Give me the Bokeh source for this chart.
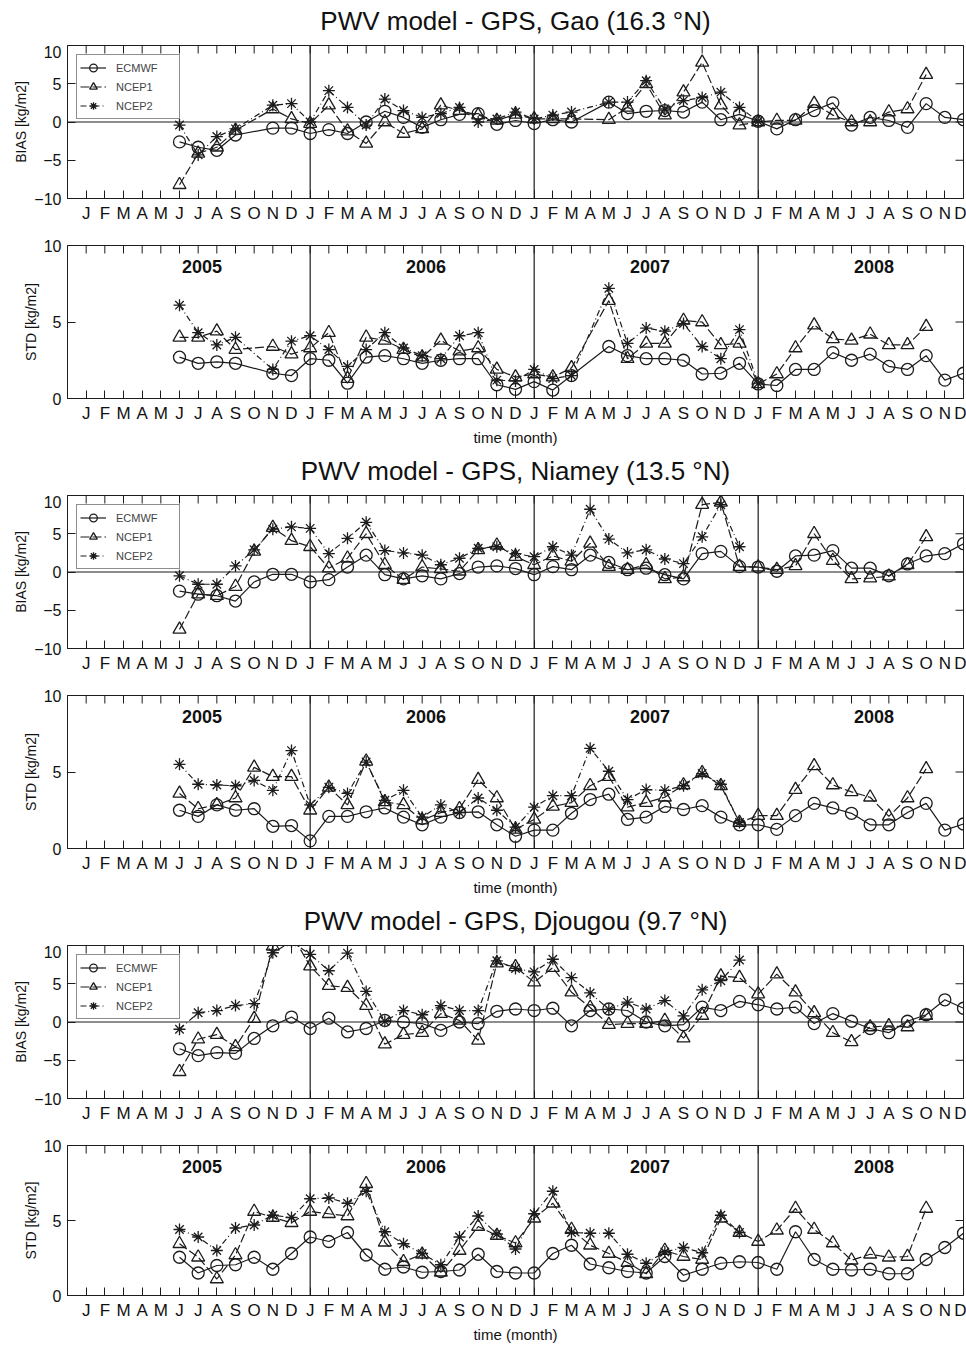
import math
from bokeh.plotting import figure
from bokeh.models import (FixedTicker, LinearAxis, Span, Legend, LegendItem, Range1d, Label, Grid)
from bokeh.layouts import column
from bokeh.embed import file_html
from bokeh.resources import INLINE
from bokeh.core.properties import value

nan = float("nan")

# ---------------- data ----------------
months = list(range(1, 49))                      # Jan 2005 .. Dec 2008
month_labels = ["J", "F", "M", "A", "M", "J", "J", "A", "S", "O", "N", "D"] * 4
years = ["2005", "2006", "2007", "2008"]
stations = ["Gao (16.3 °N)", "Niamey (13.5 °N)", "Djougou (9.7 °N)"]
series_names = ["ECMWF", "NCEP1", "NCEP2"]

def from_june(vals):
    """values start in June 2005 (month 6); pad the rest of the 48 months with NaN"""
    out = [nan] * 5 + list(vals)
    return out + [nan] * (48 - len(out))

# --- Gao ---
gao_bias_ecmwf = from_june([-2.6, -3.3, -3.7, -1.7, nan, -0.8, -0.8, -1.5, -1.0, -1.5,
                            0.0, 1.4, 0.6, -0.7, 0.3, 1.0, 1.1, -0.3, 0.2, -0.2,
                            0.3, 0.0, nan, 2.6, 1.1, 1.4, 1.5, 1.3, 2.6, 0.3,
                            1.0, 0.1, -0.9, 0.3, 1.5, 2.5, -0.4, 0.6, 0.2, -0.7,
                            2.4, 0.6, 0.3])
gao_bias_ncep1 = from_june([-8.2, -4.1, -3.3, -1.1, nan, 1.7, 0.4, -0.2, 2.2, -1.2,
                            -2.8, 0.0, -1.5, -0.9, 2.2, 1.5, 0.9, 0.2, 1.0, 0.4,
                            0.4, 0.4, nan, 0.3, 1.9, 5.0, 0.9, 3.9, 7.8, 2.2,
                            -0.4, 0.0, 0.2, 0.2, 2.4, 0.9, 0.0, 0.0, 1.3, 1.7,
                            6.2])
gao_bias_ncep2 = from_june([-0.4, -4.3, -1.9, -0.9, nan, 2.2, 2.4, 0.0, 4.1, 1.9,
                            -0.4, 3.0, 1.5, 0.6, 1.1, 1.9, 0.0, 0.4, 1.3, 0.4,
                            0.9, 1.3, nan, 2.6, 2.6, 5.4, 1.7, 2.8, 3.2, 3.9,
                            1.9, 0.1])
gao_std_ecmwf = from_june([2.7, 2.3, 2.4, 2.3, nan, 1.65, 1.5, 2.6, 2.5, 1.0,
                           2.7, 2.8, 2.6, 2.3, 2.5, 2.6, 2.6, 0.9, 0.6, 1.1,
                           0.55, 1.5, nan, 3.4, 2.8, 2.6, 2.6, 2.5, 1.6, 1.65,
                           2.3, 0.95, 0.85, 1.9, 1.9, 3.0, 2.5, 2.9, 2.1, 1.9,
                           2.8, 1.2, 1.65])
gao_std_ncep1 = from_june([4.0, 4.0, 4.4, 3.2, nan, 3.4, 2.9, 3.3, 4.3, 1.3,
                           4.0, 3.8, 3.2, 2.7, 3.8, 3.1, 3.3, 1.9, 1.4, 1.6,
                           1.4, 2.0, nan, 6.4, 2.6, 3.6, 3.6, 5.1, 5.0, 3.5,
                           3.6, 0.95, 1.6, 3.3, 4.8, 3.9, 3.8, 4.2, 3.5, 3.5,
                           4.7])
gao_std_ncep2 = from_june([6.1, 4.3, 3.5, 4.0, nan, 1.9, 3.75, 4.1, 3.2, 2.1,
                           3.2, 4.3, 3.3, 2.8, 2.6, 4.1, 4.3, 1.2, 1.15, 1.9,
                           1.3, 1.5, nan, 7.2, 3.6, 4.6, 4.4, 4.9, 3.4, 2.6,
                           4.5, 1.0])

# --- Niamey ---
nia_bias_ecmwf = from_june([-2.5, -2.9, -3.1, -3.8, -1.3, -0.3, -0.3, -1.3, -1.0, 0.65,
                            2.2, -0.35, -0.9, -0.5, -0.9, -0.2, 0.65, 0.8, 0.45, -0.35,
                            0.7, 0.3, 2.2, 1.25, 0.3, 0.5, -0.35, -0.9, 2.4, 2.7,
                            0.7, 0.65, 0.1, 2.1, 2.2, 2.8, 0.5, 0.5, -0.5, 1.05,
                            2.1, 2.4, 3.7])
nia_bias_ncep1 = from_june([-7.5, -2.9, -3.1, -1.9, 2.7, 5.8, 4.1, 3.3, 0.5, 1.8,
                            5.0, 0.95, -1.0, 0.65, 0.4, 0.1, 2.9, 3.5, 2.0, 0.95,
                            2.1, 1.4, 3.75, 0.7, 0.3, 0.95, -0.9, -0.65, 8.8, 9.1,
                            0.7, 0.65, 0.3, 0.8, 5.0, 1.5, -0.9, -0.8, -0.55, 0.95,
                            4.6])
nia_bias_ncep2 = from_june([-0.5, -1.6, -1.6, 0.8, 2.9, 5.6, 5.9, 5.7, 2.4, 4.4,
                            6.5, 2.8, 2.5, 2.2, 0.95, 1.8, 3.1, 3.3, 2.4, 2.0,
                            3.3, 2.2, 8.2, 4.3, 2.5, 2.9, 1.7, 1.1, 4.6, 8.8,
                            3.3])
nia_std_ecmwf = from_june([2.5, 2.1, 2.85, 2.5, 2.6, 1.45, 1.5, 0.5, 2.1, 2.1,
                           2.4, 2.65, 2.05, 1.55, 2.05, 2.35, 2.4, 1.55, 0.8, 1.2,
                           1.2, 2.3, 3.2, 3.55, 1.9, 2.05, 2.75, 2.55, 2.8, 2.05,
                           1.55, 1.55, 1.25, 2.15, 2.95, 2.65, 2.3, 1.55, 1.55, 2.35,
                           2.95, 1.2, 1.6])
nia_std_ncep1 = from_june([3.6, 2.6, 2.85, 3.3, 5.3, 4.7, 4.7, 2.5, 4.0, 2.85,
                           5.7, 3.05, 2.85, 1.85, 2.35, 2.6, 4.5, 3.3, 1.25, 1.9,
                           2.75, 3.0, 4.1, 4.7, 2.7, 3.0, 3.35, 4.15, 4.95, 4.1,
                           1.7, 2.15, 2.15, 3.85, 5.4, 4.15, 3.7, 3.35, 2.1, 3.3,
                           5.2])
nia_std_ncep2 = from_june([5.5, 4.2, 4.15, 4.1, 4.45, 3.8, 6.4, 2.85, 4.0, 3.6,
                           5.65, 3.15, 3.8, 2.05, 2.85, 2.35, 3.3, 2.5, 1.4, 2.7,
                           3.45, 3.45, 6.55, 5.05, 3.2, 3.85, 3.8, 4.1, 4.9, 4.2,
                           1.7])

# --- Djougou ---
djo_bias_ecmwf = from_june([-3.5, -4.4, -4.0, -4.1, -2.15, -0.5, 0.65, -0.85, 0.5, -1.3,
                            -0.85, 0.2, 0.0, -0.2, -1.1, 0.0, -0.2, 1.4, 1.7, 1.5,
                            1.8, -0.5, 1.5, 1.7, 1.5, 0.0, -0.5, -0.35, 1.95, 1.5,
                            2.7, 2.25, 1.7, 1.95, -0.2, 1.1, 0.1, -0.85, -1.4, 0.1,
                            0.95, 2.9, 1.8])
djo_bias_ncep1 = from_june([-6.5, -2.25, -1.65, -3.25, 0.45, 9.9, 11.5, 7.3, 4.75, 4.5,
                            2.15, -2.9, -1.65, -1.4, 1.1, 0.2, -2.4, 7.7, 7.2, 5.2,
                            7.1, 3.9, 1.9, -0.35, -0.2, -0.2, 0.2, -2.1, 0.85, 6.0,
                            5.8, 3.65, 6.25, 3.9, 1.2, -1.4, -2.6, -0.65, -0.5, -0.65,
                            0.85])
djo_bias_ncep2 = from_june([-0.95, 1.2, 1.5, 2.15, 2.4, 9.05, 10.5, 8.85, 6.7, 9.0,
                            4.0, 0.1, 1.5, 0.95, 2.15, 1.5, 1.5, 8.0, 7.0, 6.55,
                            8.2, 5.8, 3.8, 1.65, 2.6, 1.7, 2.8, 0.8, 4.2, 5.4,
                            8.1])
djo_std_ecmwf = from_june([2.55, 1.5, 2.0, 2.05, 2.55, 1.75, 2.8, 3.9, 3.6, 4.2,
                           2.7, 1.75, 1.9, 1.55, 1.6, 1.7, 2.75, 1.6, 1.5, 1.5,
                           2.8, 3.35, 2.1, 1.85, 1.6, 1.5, 2.6, 1.35, 1.75, 2.15,
                           2.25, 2.2, 1.75, 4.25, 2.4, 1.75, 1.7, 1.75, 1.45, 1.45,
                           2.4, 3.2, 4.15])
djo_std_ncep1 = from_june([3.45, 2.55, 1.1, 2.7, 5.6, 5.2, 4.85, 5.6, 5.45, 5.3,
                           7.45, 3.55, 2.25, 2.75, 1.55, 3.0, 4.6, 4.0, 3.5, 5.15,
                           6.15, 4.4, 3.35, 2.8, 2.2, 1.45, 3.0, 2.6, 2.4, 5.15,
                           4.2, 3.6, 4.35, 5.8, 4.4, 3.5, 2.35, 2.75, 2.55, 2.6,
                           5.8])
djo_std_ncep2 = from_june([4.4, 3.9, 3.0, 4.5, 4.7, 5.35, 5.2, 6.45, 6.5, 6.15,
                           6.95, 4.25, 3.45, 2.8, 2.05, 3.9, 5.3, 4.1, 3.1, 5.45,
                           6.95, 4.2, 4.15, 4.15, 2.75, 2.15, 2.9, 3.2, 2.85, 5.35,
                           4.2])

bias_data = [(gao_bias_ecmwf, gao_bias_ncep1, gao_bias_ncep2),
             (nia_bias_ecmwf, nia_bias_ncep1, nia_bias_ncep2),
             (djo_bias_ecmwf, djo_bias_ncep1, djo_bias_ncep2)]
std_data = [(gao_std_ecmwf, gao_std_ncep1, gao_std_ncep2),
            (nia_std_ecmwf, nia_std_ncep1, nia_std_ncep2),
            (djo_std_ecmwf, djo_std_ncep1, djo_std_ncep2)]

# ---------------- style ----------------
FONT = "Liberation Sans"
INK = "#1c1c1c"
W = 966
MARKERS = ["circle", "triangle", "asterisk"]
MSIZE = [12, 13, 12]
DASH = ["solid", "9 3", "6 3 1 3"]
TITLE_H = 45          # height of the strip that holds each station title


def axis_common(ax):
    ax.major_tick_in = 8
    ax.major_tick_out = 0
    ax.minor_tick_in = 0
    ax.minor_tick_out = 0
    ax.axis_line_color = INK
    ax.major_tick_line_color = INK
    ax.major_label_text_font = FONT
    ax.major_label_text_color = "#111111"
    ax.axis_label_text_font = FONT
    ax.axis_label_text_font_style = "normal"
    ax.axis_label_text_color = "#111111"


def title_strip(text):
    """a thin figure (no axes) whose frame holds only the centred station title"""
    t = figure(width=W, height=TITLE_H, output_backend="svg", toolbar_location=None,
               x_range=Range1d(0, 48), y_range=Range1d(0, TITLE_H),
               x_axis_location=None, y_axis_location=None,
               min_border_left=67, min_border_right=3, min_border_top=0, min_border_bottom=0)
    t.outline_line_color = None
    for r in list(t.center):
        if isinstance(r, Grid):
            r.visible = False
    t.text(x=[24], y=[TITLE_H - 20], text=[text], text_align="center",
           text_baseline="middle", text_font=value(FONT), text_font_size="26px",
           text_color="#111111")
    return t


def make_fig(height, top, bottom, yr, yticks, ylabel, xlabel=None):
    p = figure(width=W, height=height, output_backend="svg", toolbar_location=None,
               x_range=Range1d(0, 48), y_range=Range1d(*yr),
               x_axis_location=None, y_axis_location=None,
               min_border_left=67, min_border_right=3,
               min_border_top=top, min_border_bottom=bottom)
    p.outline_line_color = INK
    p.background_fill_color = "white"
    p.border_fill_color = "white"
    for r in list(p.center):
        if isinstance(r, Grid):
            r.visible = False

    overrides = {m: lab for m, lab in zip(months, month_labels)}
    xb = LinearAxis(ticker=FixedTicker(ticks=months), major_label_overrides=overrides)
    axis_common(xb)
    xb.major_label_text_font_size = "17px"
    xb.major_label_standoff = 5
    if xlabel:
        xb.axis_label = xlabel
        xb.axis_label_text_font_size = "15px"
        xb.axis_label_standoff = 3
    p.add_layout(xb, "below")

    yl = LinearAxis(ticker=FixedTicker(ticks=yticks), axis_label=ylabel)
    axis_common(yl)
    yl.major_label_text_font_size = "16px"
    yl.major_label_standoff = 6
    yl.axis_label_text_font_size = "14px"
    yl.axis_label_standoff = 2
    p.add_layout(yl, "left")

    # inward tick marks on the top and right frame edges (box on)
    p.scatter(x=months, y=[yr[1]] * len(months), marker="dash", angle=math.pi / 2,
              size=16, line_color=INK, line_width=1)
    p.scatter(x=[48] * len(yticks), y=yticks, marker="dash", size=16,
              line_color=INK, line_width=1)

    # year separators
    for i in range(1, len(years)):
        p.add_layout(Span(location=1 + 12 * i, dimension="height",
                          line_color=INK, line_width=1.2))
    return p


def draw(p, vals, k):
    xs = [m for m, v in zip(months, vals) if not math.isnan(v)]
    ys = [v for v in vals if not math.isnan(v)]
    r1 = p.line(xs, ys, line_color=INK, line_width=1.2, line_dash=DASH[k])
    r2 = p.scatter(xs, ys, marker=MARKERS[k], size=MSIZE[k], line_color=INK,
                   fill_alpha=0, line_width=1.3)
    return [r1, r2]


# figure heights / borders (pixels)
layout_spec = [
    # (height, top, bottom)
    (180, 0, 27), (225, 20, 52),
    (180, 0, 27), (225, 20, 52),
    (180, 0, 27), (220, 20, 47),
]

figs = []
for s in range(3):
    figs.append(title_strip("PWV model - GPS, " + stations[s]))

    hb, tb, bb = layout_spec[2 * s]
    pb = make_fig(hb, tb, bb, (-10, 10), [-10, -5, 0, 5, 10], "BIAS [kg/m2]")
    pb.add_layout(Span(location=0, dimension="width", line_color=INK, line_width=1.2))
    items = []
    for k in range(3):
        rs = draw(pb, bias_data[s][k], k)
        items.append(LegendItem(label=series_names[k], renderers=rs))
    leg = Legend(items=items, location="top_left", margin=9, padding=3, spacing=0,
                 glyph_width=26, glyph_height=19, label_height=19, label_width=60,
                 label_standoff=10, label_text_font=FONT, label_text_font_size="11px",
                 border_line_color=INK, border_line_width=1, background_fill_alpha=1)
    pb.add_layout(leg)
    figs.append(pb)

    hs, ts, bs = layout_spec[2 * s + 1]
    ps = make_fig(hs, ts, bs, (0, 10), [0, 5, 10], "STD [kg/m2]", xlabel="time (month)")
    for k in range(3):
        draw(ps, std_data[s][k], k)
    for i, yname in enumerate(years):
        ps.add_layout(Label(x=12 * i + 7.2, y=8.6, text=yname, text_align="center",
                            text_baseline="middle", text_font=FONT, text_font_style="bold",
                            text_font_size="18px", text_color="#111111"))
    figs.append(ps)

layout = column(*figs, spacing=0)
open("out.html", "w").write(file_html(layout, INLINE))
